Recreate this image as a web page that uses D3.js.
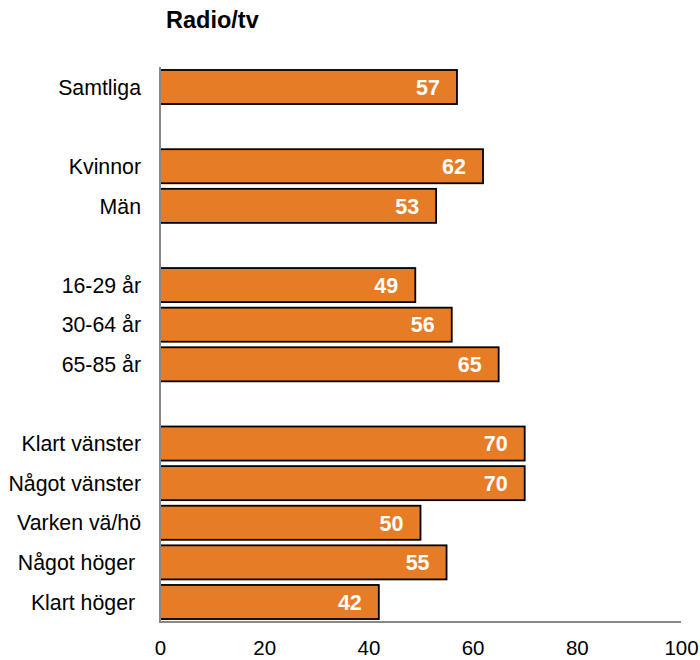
<!DOCTYPE html>
<html><head><meta charset="utf-8">
<script src="https://cdn.jsdelivr.net/npm/d3@7"></script>
<style>body{margin:0;background:#fff}text{font-family:"Liberation Sans",Arial,sans-serif}</style>
</head><body><svg id="c" width="700" height="660"></svg>
<script>
const title = "Radio/tv";
const categories = ["Samtliga", "", "Kvinnor", "Män", " ", "16-29 år", "30-64 år", "65-85 år", "  ", "Klart vänster", "Något vänster", "Varken vä/hö", "Något höger ", "Klart höger "];
const values = [57, null, 62, 53, null, 49, 56, 65, null, 70, 70, 50, 55, 42];
const tickValues = [0, 20, 40, 60, 80, 100];

const svg = d3.select("#c");
const x = d3.scaleLinear().domain([0, 100]).range([160, 681]);
const y = d3.scaleBand().domain(categories).range([67.2, 621.8]).paddingInner(0.14).paddingOuter(0.07);
const data = categories.map((c, i) => ({c, v: values[i]}));

svg.append("text").attr("x", 166).attr("y", 28).attr("font-size", 23.5).attr("font-weight", "bold").attr("fill", "#000").text(title);

svg.selectAll("rect.bar").data(data.filter(d => d.v != null)).join("rect")
  .attr("class", "bar")
  .attr("x", x(0)).attr("y", d => y(d.c))
  .attr("width", d => x(d.v) - x(0)).attr("height", y.bandwidth())
  .attr("fill", "#E67C26").attr("stroke", "#000").attr("stroke-width", 1.8);

svg.selectAll("text.val").data(data.filter(d => d.v != null)).join("text")
  .attr("class", "val")
  .attr("x", d => x(d.v) - 17).attr("y", d => y(d.c) + y.bandwidth() / 2)
  .attr("dy", "0.36em").attr("text-anchor", "end")
  .attr("font-size", 21.5).attr("font-weight", "bold").attr("fill", "#fff")
  .text(d => d.v);

svg.selectAll("text.cat").data(data.filter(d => d.v != null)).join("text")
  .attr("class", "cat")
  .attr("x", 141).attr("y", d => y(d.c) + y.bandwidth() / 2)
  .attr("dy", "0.36em").attr("text-anchor", "end")
  .attr("font-size", 21.3).attr("fill", "#000")
  .style("white-space", "pre")
  .text(d => d.c);

svg.append("line").attr("x1", x(0)).attr("x2", x(0)).attr("y1", 67).attr("y2", 622)
  .attr("stroke", "#888").attr("stroke-width", 2);
svg.append("line").attr("x1", x(0) - 1).attr("x2", x(100)).attr("y1", 622).attr("y2", 622)
  .attr("stroke", "#888").attr("stroke-width", 2);

const xAxis = d3.axisBottom(x).tickValues(tickValues).tickSize(0).tickPadding(0);
const g = svg.append("g").attr("transform", "translate(0,640)").call(xAxis);
g.select(".domain").remove();
g.selectAll("text").attr("font-size", 20.5).attr("fill", "#000")
  .attr("font-family", '"Liberation Sans",Arial,sans-serif').attr("dy", "0.74em");
</script></body></html>
